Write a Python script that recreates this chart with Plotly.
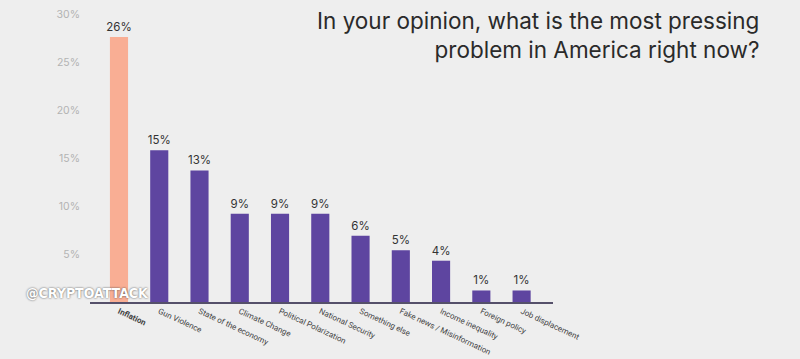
import plotly.graph_objects as go

categories = ["Inflation", "Gun Violence", "State of the economy", "Climate Change",
              "Political Polarization", "National Security", "Something else",
              "Fake news / Misinformation", "Income inequality", "Foreign policy",
              "Job displacement"]
values = [27.6, 15.8, 13.7, 9.2, 9.2, 9.2, 6.9, 5.4, 4.3, 1.2, 1.2]
value_labels = ["26%", "15%", "13%", "9%", "9%", "9%", "6%", "5%", "4%", "1%", "1%"]
y_ticks = [5, 10, 15, 20, 25, 30]
y_tick_labels = ["5%", "10%", "15%", "20%", "25%", "30%"]

colors = ["#f9ae94"] + ["#5e45a0"] * (len(categories) - 1)
tick_text = ["<b>" + categories[0] + "</b>"] + categories[1:]

fig = go.Figure(go.Bar(
    x=list(range(len(categories))), y=values, marker_color=colors, marker_line_width=0,
    text=value_labels, textposition="outside", cliponaxis=False, constraintext="none",
    textfont=dict(family="Inter, sans-serif", size=11.5, color="#333333"),
))

L, R, T, B = 90, 247, 14, 57
PW, PH = 800 - L - R, 359 - T - B
fig.update_layout(
    width=800, height=359,
    margin=dict(l=L, r=R, t=T, b=B, autoexpand=False),
    paper_bgcolor="#eeeeee", plot_bgcolor="#eeeeee",
    bargap=0.55, showlegend=False,
    font=dict(family="Inter, sans-serif"),
)
fig.update_xaxes(
    range=[-0.72, 10.78], tickmode="array", tickvals=list(range(len(categories))),
    ticktext=tick_text, tickangle=25, showgrid=False, zeroline=False, automargin=False,
    showline=True, linecolor="#55506a", linewidth=1.5, ticks="",
    tickfont=dict(family="Roboto, sans-serif", size=8, color="#444444"),
)
fig.update_yaxes(
    range=[0, 30], tickmode="array", tickvals=y_ticks, ticktext=y_tick_labels,
    showgrid=False, zeroline=False, showline=False, ticks="", automargin=False,
    ticklabelstandoff=9, tickfont=dict(size=10.5, color="#b3b3b3"),
)
fig.add_annotation(
    xref="paper", yref="paper", x=(761 - L) / PW, y=(359 - B - 5) / PH,
    xanchor="right", yanchor="top", align="right", showarrow=False,
    text="In your opinion, what is the most pressing<br>problem in America right now?",
    font=dict(family="Inter, sans-serif", size=22.5, color="#2a2a2a"),
)
fig.add_annotation(
    xref="paper", yref="paper", x=(24 - L) / PW, y=-1 / PH, xanchor="left", yanchor="bottom",
    showarrow=False, text="@CRYPTOATTACK",
    font=dict(family="DejaVu Sans Condensed, DejaVu Sans", size=14, color="#ffffff",
              weight="bold", shadow="0px 0px 2px #444"),
)
fig.write_html("out.html", config={"displayModeBar": False},
               post_script="document.body.style.margin='0px';")
